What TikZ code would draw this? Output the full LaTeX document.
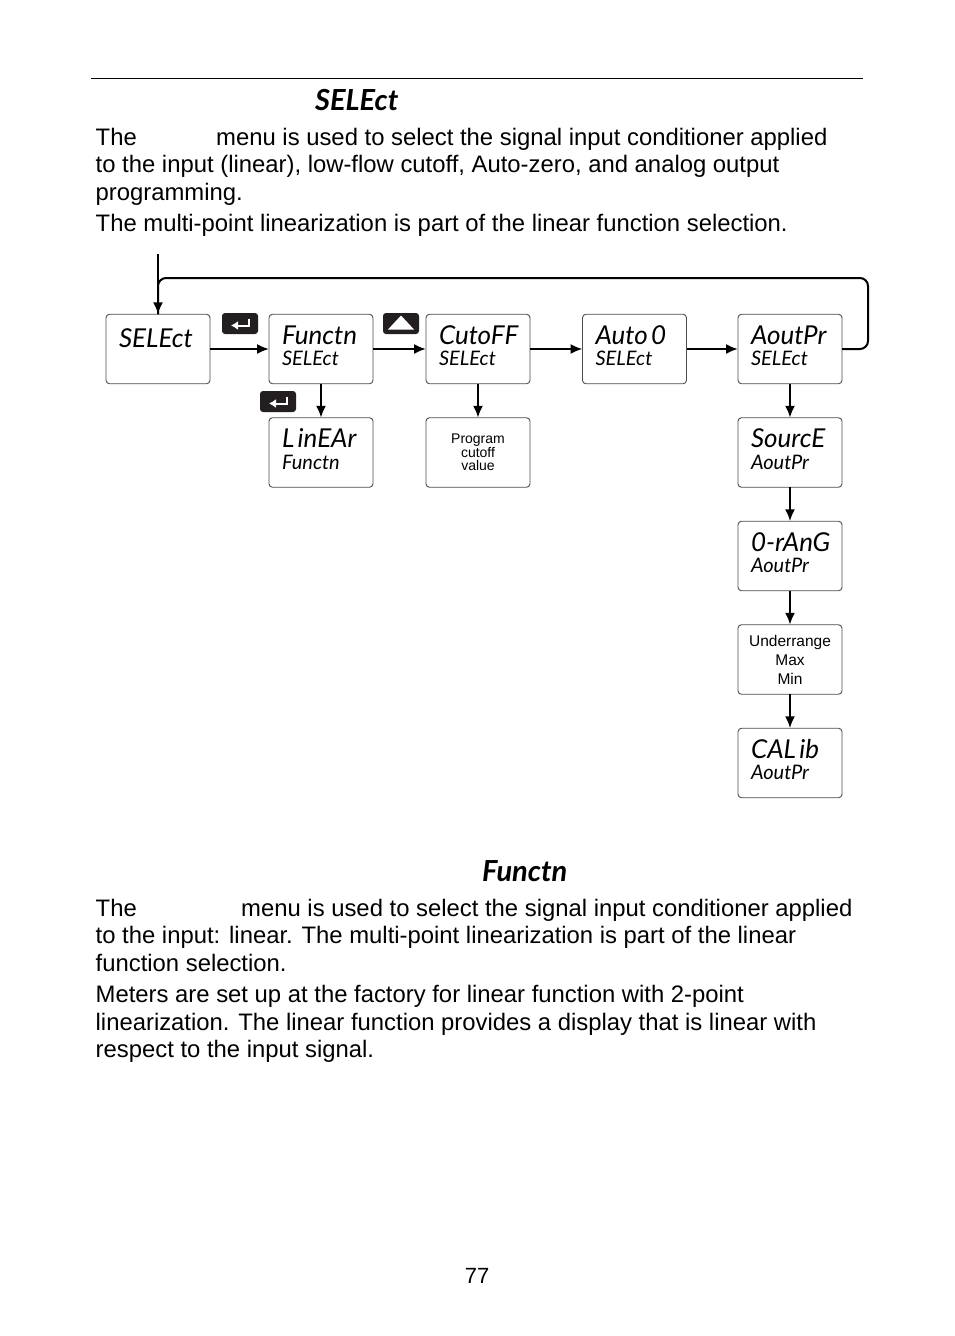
\documentclass[tikz,border=0pt]{standalone}
\usepackage{fontspec}
\setmainfont{Liberation Sans}
\newfontfamily\segfont{Lato}
\usetikzlibrary{arrows.meta,positioning,calc}
\newcommand{\seglarge}{\segfont\itshape\fontsize{26}{23}\selectfont}
\newcommand{\segsmall}{\segfont\itshape\fontsize{20}{23}\selectfont}
\newcommand{\seghead}{\segfont\itshape\bfseries\fontsize{29}{29}\selectfont}
\newcommand{\disptext}[2]{\seglarge\rule[-6pt]{0pt}{20pt}#1\\\segsmall\rule[-7pt]{0pt}{15pt}#2}
\definecolor{keyblack}{RGB}{35, 31, 32}
\tikzstyle{dispbox} = [rectangle, rounded corners=3.5pt, draw=black!70, line width=0.9pt, fill=none, inner sep=0pt, outer sep=0pt, text width=78pt, minimum width=104pt, minimum height=69.5pt, align=left]
\tikzstyle{msgbox} = [rectangle, rounded corners=3.5pt, draw=black!70, line width=0.9pt, fill=none, inner sep=0pt, outer sep=0pt, minimum width=104pt, minimum height=69.5pt, align=center]
\tikzstyle{keybox} = [rectangle, rounded corners=3pt, fill=keyblack, minimum width=36pt, minimum height=21pt, inner sep=0pt]
\tikzstyle{textonly} = [draw=none, fill=none, inner sep=0pt, anchor=base west, font=\fontsize{23.85}{27}\selectfont]
\tikzstyle{seghead} = [draw=none, fill=none, inner sep=0pt, anchor=base west, font=\seghead]
\tikzstyle{tedge} = [draw, line width=2pt, -{Latex[length=12pt,width=10pt]}]
\tikzstyle{tline} = [draw, line width=2pt, rounded corners=8pt]
\newcommand{\enterglyph}[1]{\draw[white, line width=2pt, -{Latex[length=7pt,width=9pt]}] ($(#1.center)+(9,-5)$) -- ($(#1.center)+(9,2)$) -- ($(#1.center)+(-9,2)$);}

\begin{document}
\begin{tikzpicture}[x=1pt, y=-1pt]
\useasboundingbox (0,0) rectangle (954,1336);

% page text ==============================

\coordinate (rulel) at (91,78.5);
\coordinate (ruler) at (863,78.5);
\draw[line width=0.9pt] (rulel) -- (ruler);

\node[seghead] (head1) at (315,110) {SELEct};
\node[textonly] (a1) at (95.5,145) {The};
\node[textonly] (a1b) at (216,145) {menu is used to select the signal input conditioner applied};
\node[textonly] (a2) at (95.5,172) {to the input (linear), low-flow cutoff, Auto-zero, and analog output};
\node[textonly] (a3) at (95.5,200) {programming.};
\node[textonly] (a4) at (95.5,231) {The multi-point linearization is part of the linear function selection.};

\node[seghead] (head2) at (482,881) {Functn};
\node[textonly] (b1) at (95.5,916) {The};
\node[textonly] (b1b) at (241,916) {menu is used to select the signal input conditioner applied};
\node[textonly] (b2) at (95.5,943) {to the input: linear. The multi-point linearization is part of the linear};
\node[textonly] (b3) at (95.5,971) {function selection.};
\node[textonly] (b4) at (95.5,1002) {Meters are set up at the factory for linear function with 2-point};
\node[textonly] (b5) at (95.5,1030) {linearization. The linear function provides a display that is linear with};
\node[textonly] (b6) at (95.5,1057) {respect to the input signal.};

\node[textonly, anchor=base, font=\fontsize{22}{24}\selectfont] (pagenum) at (477,1283) {77};

% top row ================================

\node[dispbox] (select) at (158,349) {\disptext{SELEct}{}};
\node[dispbox, right=59pt of select] (functn) {\disptext{Functn}{SELEct}};
\node[dispbox, right=53pt of functn] (cutoff) {\disptext{CutoFF}{SELEct}};
\node[dispbox, right=52.5pt of cutoff] (auto) {\disptext{Auto 0}{SELEct}};
\node[dispbox, right=51.5pt of auto] (aoutpr) {\disptext{AoutPr}{SELEct}};

% second row =============================

\node[dispbox, below=34pt of functn] (linear) {\disptext{L inEAr}{Functn}};
\node[msgbox, below=34pt of cutoff, font=\fontsize{14}{13.5}\selectfont] (program) {Program\\cutoff\\value};

% output column ==========================

\node[dispbox, below=34pt of aoutpr] (source) {\disptext{SourcE}{AoutPr}};
\node[dispbox, below=34pt of source] (orang) {\disptext{\mbox{0-rAnG}}{AoutPr}};
\node[msgbox, below=34pt of orang, font=\fontsize{15.5}{19}\selectfont] (under) {Underrange\\Max\\Min};
\node[dispbox, below=34pt of under] (calib) {\disptext{CAL ib}{AoutPr}};

% keys ===================================

\node[keybox] (enter1) at (240,323.5) {};
\node[keybox] (upkey) at (401,323.5) {};
\node[keybox] (enter2) at (278,401.5) {};
\enterglyph{enter1}
\enterglyph{enter2}
\fill[white] ($(upkey.center)+(0,-8)$) -- ($(upkey.center)+(-13,6)$) -- ($(upkey.center)+(13,6)$) -- cycle;

% edges ==================================

\coordinate (entry) at (158,254);
\coordinate (loop) at (868,278);

\path[tedge] (entry) -- (select);
\path[tline] (aoutpr) -| (loop) -| (select);

\path[tedge] (select) -- (functn);
\path[tedge] (functn) -- (cutoff);
\path[tedge] (cutoff) -- (auto);
\path[tedge] (auto) -- (aoutpr);

\path[tedge] (functn) -- (linear);
\path[tedge] (cutoff) -- (program);

\path[tedge] (aoutpr) -- (source);
\path[tedge] (source) -- (orang);
\path[tedge] (orang) -- (under);
\path[tedge] (under) -- (calib);

\end{tikzpicture}
\end{document}
